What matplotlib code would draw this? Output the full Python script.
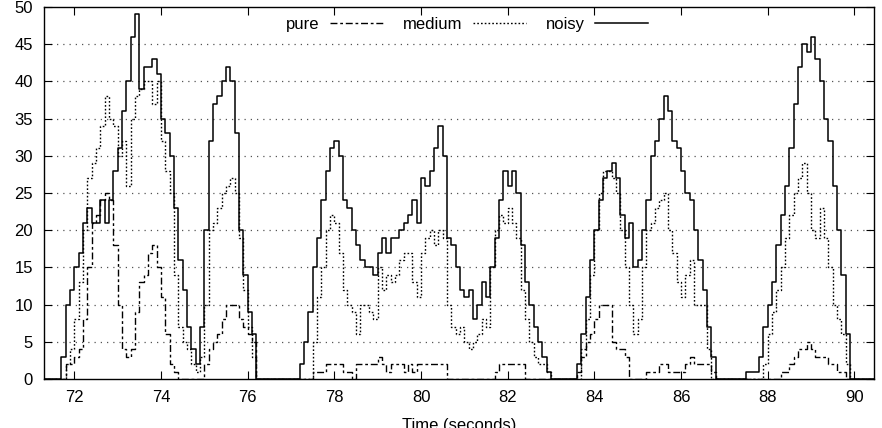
import numpy as np
import matplotlib
matplotlib.use('Agg')
import matplotlib.pyplot as plt

plt.rcParams['font.family'] = ['Liberation Sans', 'DejaVu Sans']

# Sample times (seconds), one value every 0.1 s, held until the next sample
t = np.round(np.arange(71.3, 90.55, 0.1), 1)

noisy = [
    0, 0, 0, 0, 3, 10, 12,                    # 71.3 - 71.9
    15, 17, 21, 23, 21, 21, 24, 21, 24, 28,   # 72
    31, 36, 40, 46, 49, 39, 42, 42, 43, 41,   # 73
    35, 33, 30, 23, 16, 12, 7, 4, 2, 7,       # 74
    20, 32, 37, 38, 40, 42, 40, 33, 20, 14,   # 75
    9, 6, 0, 0, 0, 0, 0, 0, 0, 0,             # 76
    0, 0, 2, 5, 9, 15, 19, 24, 28, 31,        # 77
    32, 30, 24, 23, 20, 18, 16, 15, 15, 14,   # 78
    17, 19, 17, 19, 19, 20, 21, 22, 24, 21,   # 79
    27, 26, 28, 31, 34, 30, 19, 18, 15, 12,   # 80
    11, 12, 8, 10, 13, 11, 15, 19, 24, 28,    # 81
    26, 28, 25, 18, 13, 10, 7, 5, 3, 1,       # 82
    0, 0, 0, 0, 0, 0, 2, 6, 11, 16,           # 83
    20, 24, 27, 28, 29, 27, 22, 19, 21, 15,   # 84
    16, 20, 24, 30, 32, 35, 38, 36, 32, 31,   # 85
    28, 25, 24, 20, 16, 12, 7, 3, 0, 0,       # 86
    0, 0, 0, 0, 0, 1, 1, 1, 3, 7,             # 87
    10, 13, 18, 22, 26, 31, 37, 42, 45, 44,   # 88
    46, 43, 40, 35, 32, 26, 20, 14, 6, 0,     # 89
    0, 0, 0, 0, 0, 0,                         # 90.0 - 90.5
]

medium = [
    0, 0, 0, 0, 0, 2, 4,
    8, 13, 20, 27, 29, 31, 34, 38, 35, 34,
    30, 32, 26, 35, 38, 39, 40, 40, 37, 40,
    32, 28, 25, 14, 7, 5, 4, 2, 1, 3,
    10, 20, 21, 23, 25, 26, 27, 25, 19, 12,
    7, 3, 0, 0, 0, 0, 0, 0, 0, 0,
    0, 0, 0, 0, 0, 5, 11, 15, 20, 22,
    21, 17, 12, 10, 9, 6, 10, 10, 9, 8,
    15, 12, 14, 13, 14, 16, 17, 17, 13, 11,
    17, 19, 20, 18, 20, 19, 10, 7, 6, 7,
    5, 4, 5, 6, 8, 7, 15, 20, 22, 21,
    23, 21, 19, 12, 8, 5, 3, 2, 2, 1,
    0, 0, 0, 0, 0, 0, 0, 4, 8, 14,
    20, 25, 28, 28, 27, 25, 20, 15, 10, 6,
    8, 15, 20, 21, 23, 24, 25, 20, 17, 13,
    11, 14, 16, 10, 10, 10, 4, 0, 0, 0,
    0, 0, 0, 0, 0, 0, 0, 0, 0, 2,
    6, 9, 12, 15, 19, 22, 25, 27, 29, 25,
    20, 19, 23, 19, 15, 10, 8, 6, 2, 0,
    0, 0, 0, 0, 0, 0,
]

pure = [
    0, 0, 0, 0, 0, 2, 2,
    3, 4, 8, 15, 21, 22, 24, 25, 24, 18,
    10, 4, 3, 4, 9, 13, 14, 17, 18, 15,
    11, 6, 2, 1, 0, 0, 0, 0, 0, 0,
    2, 4, 5, 6, 8, 10, 10, 10, 8, 7,
    6, 5, 0, 0, 0, 0, 0, 0, 0, 0,
    0, 0, 0, 0, 0, 1, 1, 1, 2, 2,
    2, 2, 1, 1, 0, 2, 2, 2, 2, 2,
    3, 2, 1, 2, 2, 2, 1, 2, 1, 2,
    2, 2, 2, 2, 2, 2, 0, 0, 0, 0,
    0, 0, 0, 0, 0, 0, 0, 1, 2, 2,
    2, 2, 2, 2, 0, 0, 0, 0, 0, 0,
    0, 0, 0, 0, 0, 0, 1, 3, 5, 6,
    8, 10, 10, 10, 5, 4, 4, 3, 0, 0,
    0, 0, 1, 1, 1, 2, 2, 1, 1, 1,
    1, 2, 3, 2, 2, 2, 2, 1, 0, 0,
    0, 0, 0, 0, 0, 0, 0, 0, 0, 0,
    0, 0, 0, 1, 1, 2, 3, 4, 4, 5,
    4, 3, 3, 3, 2, 2, 1, 1, 0, 0,
    0, 0, 0, 0, 0, 0,
]

x_ticks = [72, 74, 76, 78, 80, 82, 84, 86, 88, 90]
y_ticks = [0, 5, 10, 15, 20, 25, 30, 35, 40, 45, 50]

fig = plt.figure(figsize=(8.82, 4.28), dpi=100)
ax = fig.add_axes([44/882, 1 - 379/428, 830/882, 372/428])

ax.plot(t, pure, drawstyle='steps-post', color='k', linewidth=1.0,
        dashes=(5, 2, 2, 2), label='pure')
ax.plot(t, medium, drawstyle='steps-post', color='k', linewidth=1.0,
        dashes=(1.2, 1.5), label='medium')
ax.plot(t, noisy, drawstyle='steps-post', color='k', linewidth=1.1,
        label='noisy')

ax.set_xlim(71.3, 90.45)
ax.set_ylim(0, 50)
ax.set_xticks(x_ticks)
ax.set_yticks(y_ticks)
ax.tick_params(direction='in', length=6, width=0.8, labelsize=12,
               top=True, right=True, pad=8)
for s in ax.spines.values():
    s.set_linewidth(1.0)

for y in y_ticks[1:-1]:
    ax.axhline(y, color='#555555', linewidth=0.9, linestyle=(0, (1, 4)),
               zorder=0)

ax.set_xlabel('Time (seconds)', fontsize=12, labelpad=9)
ax.legend(loc='upper center', bbox_to_anchor=(0.51, 1.0), ncol=3,
          markerfirst=False, frameon=False, fontsize=12, handlelength=3.2,
          handletextpad=0.6, columnspacing=1.2, borderaxespad=0.2)

fig.savefig('out.png', dpi=100)
